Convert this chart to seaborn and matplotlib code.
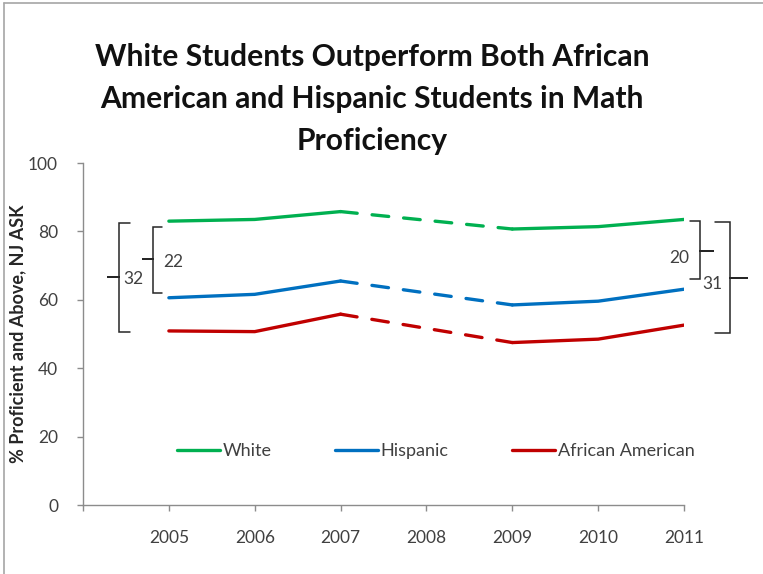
import matplotlib
matplotlib.use("Agg")
import matplotlib.pyplot as plt
from matplotlib.lines import Line2D
import seaborn as sns
import pandas as pd

# NJ ASK math proficiency by student group (no 2008 data)
years = [2005, 2006, 2007, 2009, 2010, 2011]
white = [83.0, 83.5, 85.8, 80.7, 81.4, 83.5]
hispanic = [60.6, 61.6, 65.5, 58.5, 59.6, 63.1]
african_american = [50.9, 50.7, 55.8, 47.5, 48.5, 52.6]
series_names = ["White", "Hispanic", "African American"]
series_colors = ["#00B050", "#0070C0", "#C00000"]
x_ticks = [2004, 2005, 2006, 2007, 2008, 2009, 2010, 2011]
x_tick_labels = ["", "2005", "2006", "2007", "2008", "2009", "2010", "2011"]
y_ticks = [0, 20, 40, 60, 80, 100]

title = ("White Students Outperform Both African\n"
         "American and Hispanic Students in Math\nProficiency")
y_label = "% Proficient and Above, NJ ASK"

sns.set_theme(style="white")
plt.rcParams["font.family"] = ["Lato", "DejaVu Sans"]

fig = plt.figure(figsize=(7.63, 5.74), dpi=100)
ax = fig.add_axes([0.1088, 0.1202, 0.7877, 0.5958])

values = [white, hispanic, african_american]
frames = []
for name, vals in zip(series_names, values):
    frames.append(pd.DataFrame({"year": years, "value": vals, "group": name}))
df = pd.concat(frames, ignore_index=True)

lw = 2.4
handles = []
for name, color in zip(series_names, series_colors):
    sub = df[df["group"] == name].reset_index(drop=True)
    first = sub.iloc[0:3]
    gap = sub.iloc[2:4]
    last = sub.iloc[3:6]
    sns.lineplot(data=first, x="year", y="value", color=color, lw=lw, ax=ax,
                 solid_capstyle="round")
    sns.lineplot(data=last, x="year", y="value", color=color, lw=lw, ax=ax,
                 solid_capstyle="round")
    sns.lineplot(data=gap, x="year", y="value", color=color, lw=lw, ax=ax,
                 dashes=False, linestyle=(0, (5, 4.5)), dash_capstyle="round")
    handles.append(Line2D([0], [0], color=color, lw=lw, label=name))

ax.set_xlim(2004, 2011)
ax.set_ylim(0, 100)
ax.set_xticks(x_ticks)
ax.set_xticklabels(x_tick_labels)
ax.set_yticks(y_ticks)
ax.set_xlabel("")
ax.set_ylabel(y_label, fontsize=13, fontweight="bold", color="#262626")
ax.yaxis.set_label_coords(-0.095, 0.5)

spine_color = "#8C8C8C"
for side in ["top", "right"]:
    ax.spines[side].set_visible(False)
for side in ["left", "bottom"]:
    ax.spines[side].set_color(spine_color)
    ax.spines[side].set_linewidth(1.0)
ax.tick_params(axis="both", which="both", length=4, width=1.0, color=spine_color,
               labelsize=12.5, labelcolor="#404040", left=True, bottom=True)
ax.tick_params(axis="x", pad=14)
ax.tick_params(axis="y", pad=14)

fig.text(0.488, 1 - 99 / 574, title, ha="center", va="center", fontsize=21.6,
         fontweight="bold", color="#111111", linespacing=1.6)

leg = ax.legend(handles=handles, loc="center", ncol=3, frameon=False,
                bbox_to_anchor=(0.571, 1 - 451 / 574), bbox_transform=fig.transFigure,
                fontsize=13, handlelength=2.4, handletextpad=0.15, columnspacing=3.5)
for t in leg.get_texts():
    t.set_color("#404040")

# Gap brackets
bcol = "#262626"
blw = 1.1


def bracket(x_spine, x_end, x_notch, y_top, y_bot, y_mid):
    xs = [x_end, x_spine, x_spine, x_notch, x_spine, x_spine, x_end]
    ys = [y_top, y_top, y_mid, y_mid, y_mid, y_bot, y_bot]
    ax.plot(xs, ys, color=bcol, lw=blw, clip_on=False, solid_joinstyle="miter")


gap_hisp_2005 = round(white[0] - hispanic[0])
gap_aa_2005 = round(white[0] - african_american[0])
gap_hisp_2011 = round(white[-1] - hispanic[-1])
gap_aa_2011 = round(white[-1] - african_american[-1])

# 2005 side
bracket(2004.42, 2004.55, 2004.28, white[0] - 0.4, african_american[0] - 0.3, 66.7)
ax.text(2004.47, 66.0, f"{gap_aa_2005}", ha="left", va="center", fontsize=12.5,
        color="#404040")
bracket(2004.81, 2004.92, 2004.69, white[0] - 1.7, hispanic[0] + 1.4, 71.9)
ax.text(2004.93, 71.2, f"{gap_hisp_2005}", ha="left", va="center", fontsize=12.5,
        color="#404040")

# 2011 side
bracket(2011.19, 2011.07, 2011.35, white[-1] - 0.5, 66.1, 74.3)
ax.text(2011.06, 72.2, f"{gap_hisp_2011}", ha="right", va="center", fontsize=12.5,
        color="#404040")
bracket(2011.54, 2011.36, 2011.75, white[-1] - 0.8, african_american[-1] - 2.3, 66.4)
ax.text(2011.21, 64.6, f"{gap_aa_2011}", ha="left", va="center", fontsize=12.5,
        color="#404040")

# Frame lines along the left and top edges
fig.add_artist(Line2D([4 / 763, 4 / 763], [0, 1 - 3 / 574], color="#A6A6A6", lw=1.2,
                      transform=fig.transFigure))
fig.add_artist(Line2D([4 / 763, 1], [1 - 3 / 574, 1 - 3 / 574], color="#A6A6A6", lw=1.2,
                      transform=fig.transFigure))

fig.savefig("out.png", dpi=100, facecolor="white")
